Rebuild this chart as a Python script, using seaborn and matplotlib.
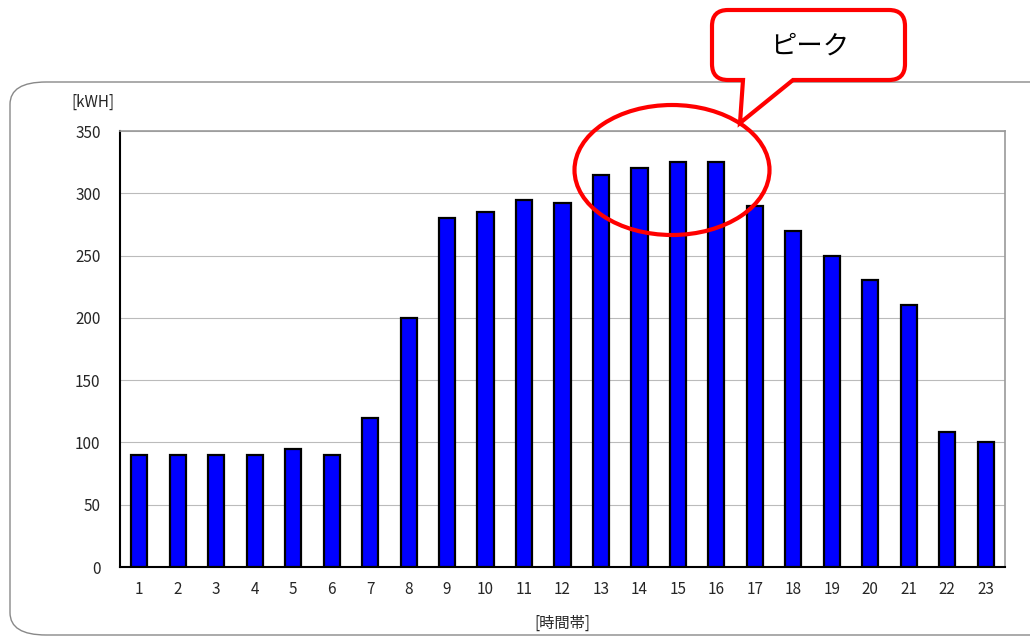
import matplotlib
matplotlib.use("Agg")
import matplotlib.pyplot as plt
import seaborn as sns
import numpy as np
from matplotlib.patches import Ellipse, FancyBboxPatch, PathPatch
from matplotlib.path import Path

hours = [str(h) for h in range(1, 24)]
kwh = [90, 90, 90, 90, 95, 90, 120, 200, 280, 285, 295, 292, 315, 320, 325, 325,
       290, 270, 250, 230, 210, 108, 100]
yticks = [0, 50, 100, 150, 200, 250, 300, 350]

sns.set_style("white")
plt.rcParams['font.family'] = ['Noto Sans CJK JP', 'DejaVu Sans']

W, H = 1030, 638
fig = plt.figure(figsize=(W / 100, H / 100), dpi=100)
ax = fig.add_axes([120 / W, 1 - 567 / H, (1005 - 120) / W, (567 - 131) / H])


def px(x, y):
    return (x / W, 1 - y / H)


# rounded outer frame (right side runs off the image)
frame = FancyBboxPatch(px(10, 635), (1200 - 10) / W, (635 - 82) / H,
                       boxstyle="round,pad=0,rounding_size=0.035",
                       transform=fig.transFigure, fill=False,
                       edgecolor="#888888", linewidth=1.0, zorder=0)
fig.patches.append(frame)

sns.barplot(x=hours, y=kwh, color="#0000ff", edgecolor="black",
            linewidth=1.6, width=0.42, saturation=1, ax=ax, zorder=3)

ax.set_ylim(0, 350)
ax.set_xlim(-0.5, len(hours) - 0.5)
ax.set_yticks(yticks)
ax.yaxis.grid(True, color="#bbbbbb", linewidth=0.8)
ax.set_axisbelow(True)
ax.tick_params(axis="y", length=0, labelsize=11, pad=14)
ax.tick_params(axis="x", length=0, labelsize=11, pad=10)
ax.set_xticks(np.arange(len(hours) + 1) - 0.5, minor=True)
ax.tick_params(axis="x", which="minor", direction="in", length=4, color="#555555")
for s in ["left", "bottom"]:
    ax.spines[s].set_color("black")
    ax.spines[s].set_linewidth(1.5)
for s in ["top", "right"]:
    ax.spines[s].set_color("#999999")
    ax.spines[s].set_linewidth(1.2)

ax.set_xlabel("[時間帯]", fontsize=11, labelpad=12)
ax.set_ylabel("")
fig.text(93 / W, 1 - 102 / H, "[kWH]", fontsize=11, ha="center", va="center")

# ellipse around peak
ell = Ellipse(px(672, 170), 195 / W, 130 / H, transform=fig.transFigure,
              fill=False, edgecolor="red", linewidth=3, zorder=10)
fig.patches.append(ell)

# speech bubble
x0, x1, y0, y1, r = 712, 905, 10, 80, 16
verts = [
    (x0 + r, y0), (x1 - r, y0), (x1, y0), (x1, y0 + r),
    (x1, y1 - r), (x1, y1), (x1 - r, y1),
    (793, y1), (740, 123), (743, y1),
    (x0 + r, y1), (x0, y1), (x0, y1 - r),
    (x0, y0 + r), (x0, y0), (x0 + r, y0), (x0 + r, y0),
]
codes = [Path.MOVETO, Path.LINETO, Path.CURVE3, Path.CURVE3,
         Path.LINETO, Path.CURVE3, Path.CURVE3,
         Path.LINETO, Path.LINETO, Path.LINETO,
         Path.LINETO, Path.CURVE3, Path.CURVE3,
         Path.LINETO, Path.CURVE3, Path.CURVE3, Path.CLOSEPOLY]
bubble = PathPatch(Path([px(*v) for v in verts], codes), transform=fig.transFigure,
                   facecolor="white", edgecolor="red", linewidth=3, zorder=11)
fig.patches.append(bubble)
fig.text(810 / W, 1 - 46 / H, "ピーク", fontsize=19, ha="center", va="center",
         color="black", zorder=12)

fig.savefig("out.png", dpi=100)
